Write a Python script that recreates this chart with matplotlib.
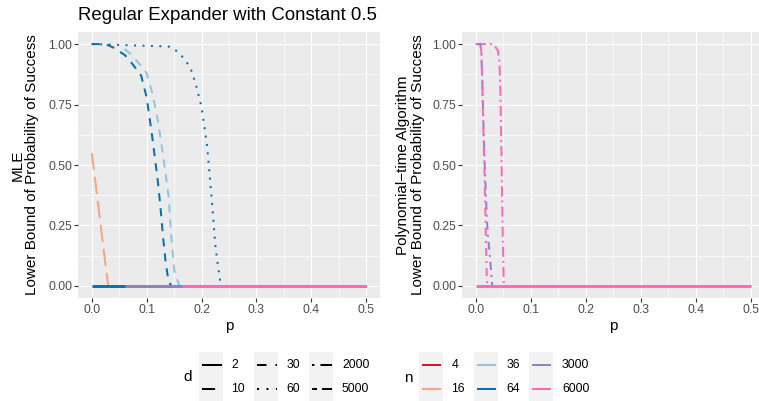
import matplotlib
matplotlib.use('Agg')
import matplotlib.pyplot as plt
from matplotlib.patches import Rectangle
from matplotlib.lines import Line2D

plt.rcParams['font.family'] = ['Liberation Sans', 'DejaVu Sans']

W, H = 759, 401

# ---------------- data ----------------
title = "Regular Expander with Constant 0.5"
left_ylabel = "MLE\nLower Bound of Probability of Success"
right_ylabel = "Polynomial\u2212time Algorithm\nLower Bound of Probability of Success"
x_ticks = [0.0, 0.1, 0.2, 0.3, 0.4, 0.5]
x_ticklabels = ["0.0", "0.1", "0.2", "0.3", "0.4", "0.5"]
y_ticks = [0.0, 0.25, 0.5, 0.75, 1.0]
y_ticklabels = ["0.00", "0.25", "0.50", "0.75", "1.00"]

n_levels = ["4", "16", "36", "64", "3000", "6000"]
n_colors = ["#D7153A", "#F4A582", "#92C5DE", "#0571B0", "#9580D0", "#FF69B4"]
d_levels = ["2", "10", "30", "60", "2000", "5000"]

# MLE panel
mle_n16_d10_p = [0.0, 0.01, 0.02, 0.03]
mle_n16_d10_v = [0.55, 0.37, 0.18, 0.0]

mle_n64_d10_p = [0.0, 0.02, 0.03, 0.04, 0.05, 0.06, 0.07, 0.08, 0.09, 0.10,
                 0.11, 0.12, 0.125, 0.13, 0.135, 0.14, 0.145]
mle_n64_d10_v = [1.0, 1.0, 0.995, 0.985, 0.97, 0.955, 0.93, 0.90, 0.87, 0.78,
                 0.62, 0.44, 0.33, 0.20, 0.09, 0.02, 0.0]

mle_n36_d10_p = [0.06, 0.07, 0.08, 0.09, 0.10, 0.11, 0.12, 0.13, 0.14, 0.145,
                 0.15, 0.155, 0.16]
mle_n36_d10_v = [0.98, 0.96, 0.935, 0.91, 0.88, 0.80, 0.69, 0.54, 0.37, 0.20,
                 0.07, 0.03, 0.0]

mle_n64_d60_p = [0.0, 0.14, 0.15, 0.16, 0.17, 0.18, 0.19, 0.20, 0.21, 0.22,
                 0.225, 0.23, 0.234, 0.237]
mle_n64_d60_v = [1.0, 0.99, 0.98, 0.96, 0.935, 0.90, 0.83, 0.74, 0.58, 0.32,
                 0.17, 0.08, 0.02, 0.0]

mle_zero_n64_p = [0.0, 0.5]
mle_zero_n64_v = [0.0, 0.0]
mle_zero_n3000_p = [0.06, 0.5]
mle_zero_n3000_v = [0.0, 0.0]
mle_zero_n6000_p = [0.165, 0.5]
mle_zero_n6000_v = [0.0, 0.0]

# Polynomial-time panel
poly_n6000_d30_p = [0.0, 0.03, 0.035, 0.04, 0.043, 0.045, 0.047, 0.049, 0.051]
poly_n6000_d30_v = [1.0, 1.0, 0.99, 0.975, 0.93, 0.78, 0.50, 0.22, 0.0]

poly_n3000_d2000_p = [0.0, 0.008, 0.010, 0.012, 0.014, 0.016, 0.018, 0.020,
                      0.022, 0.025, 0.028, 0.030]
poly_n3000_d2000_v = [1.0, 1.0, 0.975, 0.84, 0.67, 0.52, 0.40, 0.29,
                      0.21, 0.14, 0.06, 0.0]

poly_n6000_d2000_p = [0.0, 0.008, 0.010, 0.012, 0.014, 0.016, 0.018, 0.020, 0.021]
poly_n6000_d2000_v = [1.0, 1.0, 0.975, 0.83, 0.63, 0.455, 0.24, 0.043, 0.0]

poly_zero_n6000_p = [0.0, 0.5]
poly_zero_n6000_v = [0.0, 0.0]

# ---------------- styling ----------------
C = dict(zip(n_levels, n_colors))
LW = 1.45
ZLW = 2.1
STY = {
    "dash": (0, (4.0, 3.5)),
    "longdash": (0, (8.5, 3.5)),
    "dot": (0, (1.0, 3.2)),
    "dotdash_outer": (0, (5.0, 2.0, 1.0, 2.0)),
    "dotdash_inner": (0, (1.0, 2.5, 4.0, 2.5)),
    "dotdash_inner2": (3, (1.0, 2.5, 4.0, 2.5)),
}

fig = plt.figure(figsize=(W / 100, H / 100), dpi=100)


def px_axes(l, r, t, b):
    return fig.add_axes([l / W, 1 - b / H, (r - l) / W, (b - t) / H])


def style_axes(ax):
    ax.set_facecolor("#EBEBEB")
    for s in ax.spines.values():
        s.set_visible(False)
    ax.set_xlim(-0.025, 0.525)
    ax.set_ylim(-0.05, 1.05)
    ax.set_xticks(x_ticks)
    ax.set_xticklabels(x_ticklabels)
    ax.set_yticks(y_ticks)
    ax.set_yticklabels(y_ticklabels)
    ax.set_xticks([0.05, 0.15, 0.25, 0.35, 0.45], minor=True)
    ax.set_yticks([0.125, 0.375, 0.625, 0.875], minor=True)
    ax.grid(True, which="major", color="white", linewidth=0.85)
    ax.grid(True, which="minor", color="white", linewidth=0.45)
    ax.set_axisbelow(True)
    ax.tick_params(which="major", length=2.6, width=0.8, color="#333333",
                   labelcolor="#4D4D4D", labelsize=8.8, pad=1.6)
    ax.tick_params(which="minor", length=0)
    ax.set_xlabel("p", fontsize=11, labelpad=2, color="black")


# left panel
axL = px_axes(78, 380, 32, 298)
style_axes(axL)
axL.plot(mle_n16_d10_p, mle_n16_d10_v, color=C["16"], lw=LW, ls=STY["longdash"])
axL.plot(mle_n36_d10_p, mle_n36_d10_v, color=C["36"], lw=LW, ls=STY["dash"])
axL.plot(mle_n64_d10_p, mle_n64_d10_v, color=C["64"], lw=LW, ls=STY["dash"])
axL.plot(mle_n64_d60_p, mle_n64_d60_v, color=C["64"], lw=LW, ls=STY["dot"])
axL.plot(mle_zero_n64_p, mle_zero_n64_v, color=C["64"], lw=ZLW, solid_capstyle="butt")
axL.plot(mle_zero_n3000_p, mle_zero_n3000_v, color=C["3000"], lw=ZLW, solid_capstyle="butt")
axL.plot(mle_zero_n6000_p, mle_zero_n6000_v, color=C["6000"], lw=ZLW, solid_capstyle="butt")

# right panel
axR = px_axes(462, 764.5, 32, 298)
style_axes(axR)
axR.plot(poly_n6000_d30_p, poly_n6000_d30_v, color=C["6000"], lw=LW, ls=STY["dotdash_outer"])
axR.plot(poly_n3000_d2000_p, poly_n3000_d2000_v, color=C["3000"], lw=LW, ls=STY["dotdash_inner2"])
axR.plot(poly_n6000_d2000_p, poly_n6000_d2000_v, color=C["6000"], lw=LW, ls=STY["dotdash_inner"])
axR.plot(poly_zero_n6000_p, poly_zero_n6000_v, color=C["6000"], lw=ZLW, solid_capstyle="butt")

# labels
fig.text(78 / W, 1 - 20 / H, title, fontsize=13.4, ha="left", va="baseline")
fig.text(25 / W, 1 - 165 / H, left_ylabel, rotation=90, ha="center", va="center",
         ma="center", fontsize=11, linespacing=1.05)
fig.text(410.5 / W, 1 - 165 / H, right_ylabel, rotation=90, ha="center", va="center",
         ma="center", fontsize=11, linespacing=1.05)

# ---------------- legends (pixel overlay) ----------------
lg = fig.add_axes([0, 0, 1, 1])
lg.set_xlim(0, W)
lg.set_ylim(H, 0)
lg.axis("off")
lg.patch.set_visible(False)

key_w, key_h = 24, 24.5
row_y = [364.5, 389.0]
row_top = 352

d_key_x = [199, 254, 309]
d_lab_x = [231, 286.5, 342]
d_key_styles = [
    "-", (0, (6.5, 5.0)),
    (0, (4.7, 4.5, 1.2, 4.5)), (0, (1.0, 3.7)),
    (0, (1.2, 3.0, 6.7, 3.0)), (0, (2.5, 2.5, 6.0, 2.5)),
]
n_key_x = [419, 474, 529]
n_lab_x = [451.5, 506.5, 562]

lg.text(188, 377, "d", fontsize=11, ha="center", va="center")
lg.text(408, 378, "n", fontsize=11, ha="center", va="center")

for i, lab in enumerate(d_levels):
    col, row = i // 2, i % 2
    x0 = d_key_x[col]
    lg.add_patch(Rectangle((x0, row_top + row * key_h), key_w, key_h,
                           facecolor="#F2F2F2", edgecolor="none"))
    lg.add_line(Line2D([x0 + 2.5, x0 + 22.5], [row_y[row]] * 2, color="black",
                       lw=LW, ls=d_key_styles[i], solid_capstyle="butt"))
    lg.text(d_lab_x[col], row_y[row], lab, fontsize=8.8, ha="left", va="center")

for i, lab in enumerate(n_levels):
    col, row = i // 2, i % 2
    x0 = n_key_x[col]
    lg.add_patch(Rectangle((x0, row_top + row * key_h), key_w, key_h,
                           facecolor="#F2F2F2", edgecolor="none"))
    lg.add_line(Line2D([x0 + 2.5, x0 + 22], [row_y[row]] * 2, color=C[lab],
                       lw=LW, solid_capstyle="butt"))
    lg.text(n_lab_x[col], row_y[row], lab, fontsize=8.8, ha="left", va="center")

fig.savefig("out.png", dpi=100)
